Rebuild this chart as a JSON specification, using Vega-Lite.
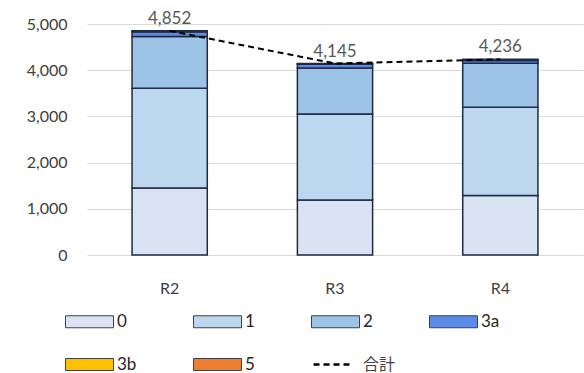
{
  "$schema": "https://vega.github.io/schema/vega-lite/v6.json",
  "autosize": {"type": "none"},
  "width": 496,
  "height": 231,
  "padding": {"left": 87, "top": 24, "right": 1, "bottom": 118},
  "background": "white",
  "config": {
    "view": {"stroke": null},
    "font": "Lato, Noto Sans CJK JP",
    "axis": {"labelFont": "Lato", "labelFontSize": 16, "labelColor": "#404040", "domain": false, "ticks": false, "title": null}
  },
  "datasets": {
    "parts": [
      {"period": "R2", "grade": "0", "value": 1450},
      {"period": "R2", "grade": "1", "value": 2160},
      {"period": "R2", "grade": "2", "value": 1120},
      {"period": "R2", "grade": "3a", "value": 100},
      {"period": "R2", "grade": "3b", "value": 10},
      {"period": "R2", "grade": "5", "value": 12},
      {"period": "R3", "grade": "0", "value": 1190},
      {"period": "R3", "grade": "1", "value": 1860},
      {"period": "R3", "grade": "2", "value": 1000},
      {"period": "R3", "grade": "3a", "value": 80},
      {"period": "R3", "grade": "3b", "value": 8},
      {"period": "R3", "grade": "5", "value": 7},
      {"period": "R4", "grade": "0", "value": 1290},
      {"period": "R4", "grade": "1", "value": 1910},
      {"period": "R4", "grade": "2", "value": 950},
      {"period": "R4", "grade": "3a", "value": 60},
      {"period": "R4", "grade": "3b", "value": 12},
      {"period": "R4", "grade": "5", "value": 14}
    ],
    "totals": [
      {"period": "R2", "total": 4852, "series": "合計"},
      {"period": "R3", "total": 4145, "series": "合計"},
      {"period": "R4", "total": 4236, "series": "合計"}
    ]
  },
  "layer": [
    {
      "data": {"name": "parts"},
      "mark": {"type": "bar", "stroke": "#1f2a44", "strokeWidth": 1.5},
      "encoding": {
        "x": {"field": "period", "type": "nominal", "scale": {"paddingInner": 0.545, "paddingOuter": 0.2725}, "axis": {"labelAngle": 0, "labelPadding": 25, "grid": false}},
        "y": {"field": "value", "type": "quantitative", "aggregate": "sum", "stack": "zero",
              "scale": {"domain": [0, 5000], "nice": false},
              "axis": {"values": [0, 1000, 2000, 3000, 4000, 5000], "format": ",.0f", "labelPadding": 20, "grid": true, "gridColor": "#d9d9d9", "gridWidth": 1.2}},
        "order": {"field": "grade", "sort": "ascending"},
        "color": {"field": "grade", "type": "nominal",
          "scale": {"domain": ["0", "1", "2", "3a", "3b", "5"], "range": ["#dae3f3", "#bdd7ee", "#9dc3e6", "#5a8be8", "#ffc000", "#ed7d31"]},
          "legend": {"title": null, "orient": "none", "legendX": -22, "legendY": 273, "direction": "horizontal", "columns": 4,
            "symbolType": "M-1,-0.25H1V0.25H-1Z", "symbolSize": 2304, "symbolStrokeColor": "#404040", "symbolStrokeWidth": 1, "symbolOpacity": 1,
            "labelFont": "Lato", "labelFontSize": 17, "labelColor": "#262626", "labelOffset": 3, "columnPadding": 54, "rowPadding": 10}}
      }
    },
    {
      "data": {"name": "totals"},
      "mark": {"type": "line", "color": "black", "strokeWidth": 2},
      "encoding": {
        "x": {"field": "period", "type": "nominal"},
        "y": {"field": "total", "type": "quantitative"},
        "strokeDash": {"field": "series", "type": "nominal", "scale": {"range": [[6, 4]]},
          "legend": {"title": null, "orient": "none", "legendX": 225, "legendY": 320, "symbolType": "stroke", "symbolSize": 1444, "symbolStrokeWidth": 2.5, "symbolStrokeColor": "black",
            "labelFont": "Noto Sans CJK JP", "labelFontSize": 16, "labelColor": "#404040", "labelOffset": 10}}
      }
    },
    {
      "data": {"name": "totals"},
      "mark": {"type": "text", "baseline": "bottom", "dy": -3, "fontSize": 17, "color": "#595959", "font": "Lato"},
      "encoding": {
        "x": {"field": "period", "type": "nominal"},
        "y": {"field": "total", "type": "quantitative"},
        "text": {"field": "total", "type": "quantitative", "format": ","}
      }
    }
  ]
}
